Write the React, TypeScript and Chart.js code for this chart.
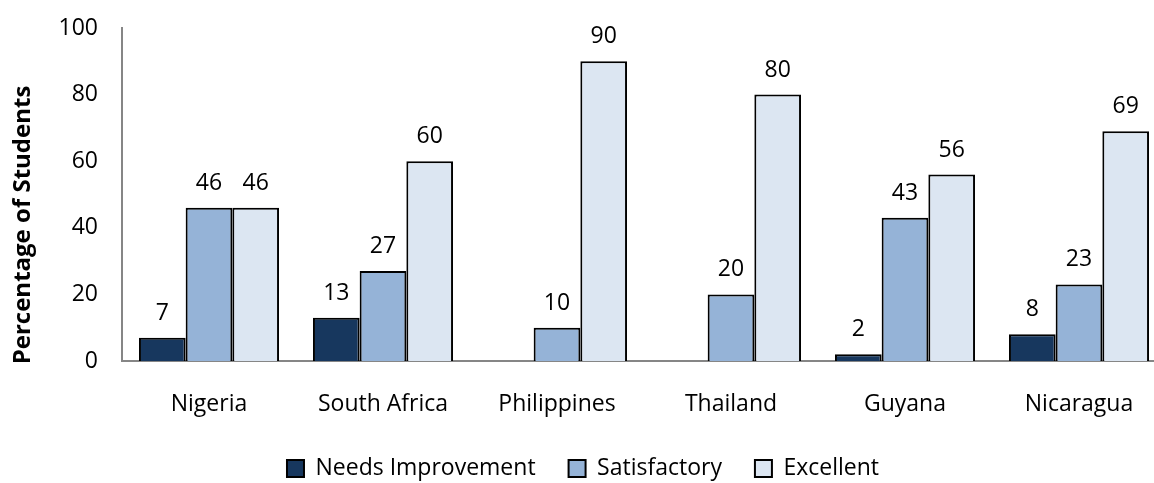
import React, { useEffect, useRef } from "react";
import { Chart, registerables } from "chart.js";

Chart.register(...registerables);

const countries = ["Nigeria", "South Africa", "Philippines", "Thailand", "Guyana", "Nicaragua"];
const needsImprovement: (number | null)[] = [7, 13, null, null, 2, 8];
const satisfactory = [46, 27, 10, 20, 43, 23];
const excellent = [46, 60, 90, 80, 56, 69];
const yTicks = [0, 20, 40, 60, 80, 100];

const FONT = "'Open Sans', 'Noto Sans', sans-serif";
const AXIS_TITLE = "Percentage of Students";

// Value labels above each bar
const valueLabels = {
  id: "valueLabels",
  afterDatasetsDraw(chart: any) {
    const ctx = chart.ctx;
    ctx.save();
    ctx.font = `23px ${FONT}`;
    ctx.fillStyle = "#000";
    ctx.textAlign = "center";
    ctx.textBaseline = "alphabetic";
    chart.data.datasets.forEach((ds: any, i: number) => {
      const meta = chart.getDatasetMeta(i);
      meta.data.forEach((bar: any, j: number) => {
        const v = ds.data[j];
        if (v === null || v === undefined) return;
        ctx.fillText(String(v), bar.x, bar.y - 18);
      });
    });
    ctx.restore();
  },
};

// Rotated y-axis title
const yTitle = {
  id: "yTitle",
  afterDraw(chart: any) {
    const ctx = chart.ctx;
    ctx.save();
    ctx.translate(23, 225);
    ctx.rotate(-Math.PI / 2);
    ctx.font = `bold 24px ${FONT}`;
    ctx.fillStyle = "#000";
    ctx.textAlign = "center";
    ctx.textBaseline = "middle";
    ctx.fillText(AXIS_TITLE, 0, 0);
    ctx.restore();
  },
};

export default function App() {
  const ref = useRef<HTMLCanvasElement>(null);

  useEffect(() => {
    if (!ref.current) return;
    const chart = new Chart(ref.current, {
      type: "bar",
      data: {
        labels: countries,
        datasets: [
          {
            label: "Needs Improvement",
            data: needsImprovement,
            backgroundColor: "#17375E",
            borderColor: "#000",
            borderWidth: 2,
          },
          {
            label: "Satisfactory",
            data: satisfactory,
            backgroundColor: "#95B3D7",
            borderColor: "#000",
            borderWidth: 2,
          },
          {
            label: "Excellent",
            data: excellent,
            backgroundColor: "#DCE6F2",
            borderColor: "#000",
            borderWidth: 2,
          },
        ],
      },
      options: {
        responsive: false,
        animation: false,
        layout: { padding: { top: 28, left: 0, right: 0, bottom: 0 } },
        datasets: { bar: { categoryPercentage: 0.805, barPercentage: 1 } },
        scales: {
          x: {
            grid: { display: false, drawTicks: false },
            border: { color: "#868686", width: 2 },
            ticks: { color: "#000", font: { family: FONT, size: 23 }, padding: 30 },
            afterFit: (s: any) => {
              s.height = 63;
            },
          },
          y: {
            min: 0,
            max: 100,
            afterBuildTicks: (s: any) => {
              s.ticks = yTicks.map((v) => ({ value: v }));
            },
            grid: { display: false, drawTicks: false },
            border: { color: "#868686", width: 2 },
            ticks: { color: "#000", font: { family: FONT, size: 23 }, padding: 24 },
            afterFit: (s: any) => {
              s.width = 122;
              s.paddingTop = 0;
              s.paddingBottom = 0;
            },
          },
        },
        plugins: {
          legend: {
            position: "bottom",
            labels: {
              color: "#000",
              font: { family: FONT, size: 23 },
              boxWidth: 17,
              boxHeight: 17,
              padding: 33,
            },
          },
          tooltip: { enabled: false },
        },
      },
      plugins: [valueLabels, yTitle],
    });
    return () => chart.destroy();
  }, []);

  return (
    <div
      style={{
        position: "fixed",
        left: 0,
        top: 0,
        width: 1154,
        height: 483,
        overflow: "hidden",
        background: "#fff",
      }}
    >
      <canvas ref={ref} width={1166} height={490} />
    </div>
  );
}
